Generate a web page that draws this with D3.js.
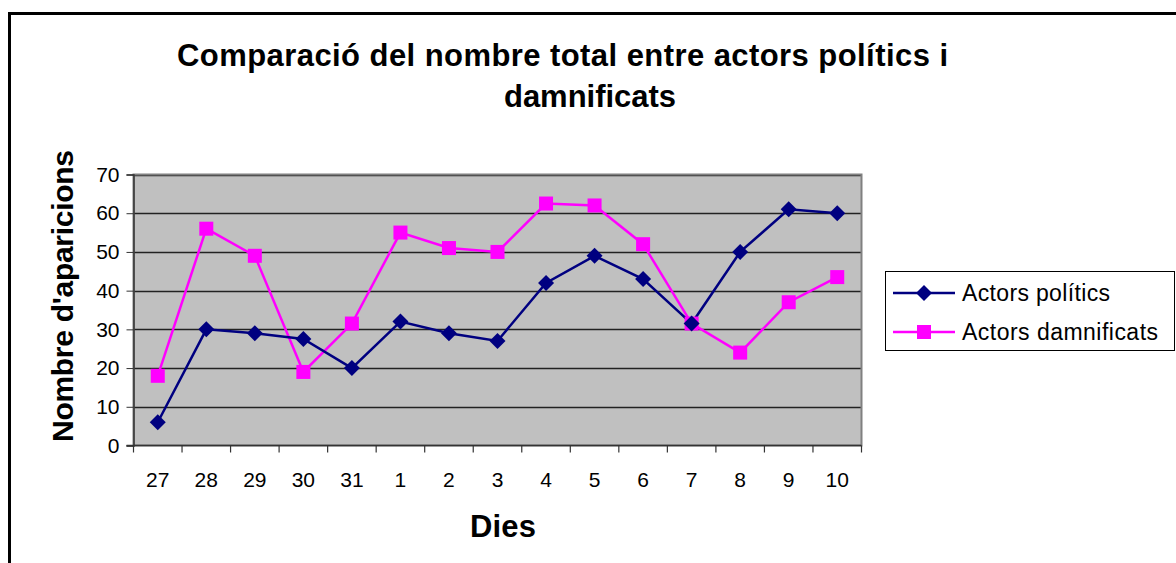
<!DOCTYPE html>
<html><head><meta charset="utf-8">
<script src="https://cdn.jsdelivr.net/npm/d3@7"></script>
<style>body{margin:0;background:#fff;} svg{display:block;} text{font-family:"Liberation Sans",Arial,sans-serif;}</style>
</head><body>
<svg id="c" width="1176" height="563"></svg>
<script>
const days = ["27","28","29","30","31","1","2","3","4","5","6","7","8","9","10"];
const politics = [6,30,29,27.5,20,32,29,27,42,49,43,31.5,50,61,60];
const victims = [18,56,49,19,31.5,55,51,50,62.5,62,52,31.5,24,37,43.5];
const yTicks = [0,10,20,30,40,50,60,70];
const seriesNames = ["Actors polítics","Actors damnificats"];
const titleLines = ["Comparació del nombre total entre actors polítics i","damnificats"];

const svg = d3.select("#c");
// outer frame
svg.append("rect").attr("x",9.5).attr("y",13.5).attr("width",1200).attr("height",600)
  .attr("fill","none").attr("stroke","#000").attr("stroke-width",3);

const L=133.5, R=861.5, T=174.5, B=445.5;
const x = d3.scaleBand().domain(days).range([L,R]).padding(0);
const y = d3.scaleLinear().domain([0,70]).range([B,T]);

svg.append("rect").attr("x",L).attr("y",T).attr("width",R-L).attr("height",B-T).attr("fill","#C0C0C0");
// gridlines
svg.append("g").selectAll("line").data(yTicks.filter(d=>d>0)).join("line")
  .attr("x1",L).attr("x2",R).attr("y1",d=>Math.round(y(d))+0.5).attr("y2",d=>Math.round(y(d))+0.5)
  .attr("stroke","#222").attr("stroke-width",1.3);
svg.append("rect").attr("x",L).attr("y",T).attr("width",R-L).attr("height",B-T)
  .attr("fill","none").attr("stroke","#808080").attr("stroke-width",2);

// y axis
const yAxis = d3.axisLeft(y).tickValues(yTicks).tickSize(7).tickPadding(7);
const gy = svg.append("g").attr("transform",`translate(${L},0)`).call(yAxis);
gy.select(".domain").attr("stroke","#333").attr("stroke-width",1.5);
gy.selectAll(".tick line").attr("stroke","#333");
gy.selectAll("text").attr("font-size",21).attr("fill","#000").style("font-family","Liberation Sans, Arial");

// x axis: ticks at boundaries
const gx = svg.append("g").attr("transform",`translate(0,${B})`);
gx.append("line").attr("x1",L-7).attr("x2",R).attr("y1",0).attr("y2",0).attr("stroke","#333").attr("stroke-width",1.5);
const bounds = days.map(d=>x(d)).concat([x(days[days.length-1])+x.bandwidth()]);
gx.selectAll("line.tk").data(bounds).join("line").attr("class","tk")
  .attr("x1",d=>d).attr("x2",d=>d).attr("y1",0).attr("y2",7).attr("stroke","#333").attr("stroke-width",1.2);
gx.selectAll("text").data(days).join("text")
  .attr("x",d=>x(d)+x.bandwidth()/2).attr("y",41).attr("text-anchor","middle")
  .attr("font-size",21).attr("fill","#000").text(d=>d);

const line = d3.line().x((d,i)=>x(days[i])+x.bandwidth()/2).y(d=>y(d));
svg.append("path").datum(victims).attr("d",line).attr("fill","none").attr("stroke","#FF00FF").attr("stroke-width",2.5);
svg.append("path").datum(politics).attr("d",line).attr("fill","none").attr("stroke","#000080").attr("stroke-width",2.5);

const sq = 14, dm = 8;
svg.append("g").selectAll("rect").data(victims).join("rect")
  .attr("x",(d,i)=>x(days[i])+x.bandwidth()/2-sq/2).attr("y",d=>y(d)-sq/2)
  .attr("width",sq).attr("height",sq).attr("fill","#FF00FF");
svg.append("g").selectAll("path").data(politics).join("path")
  .attr("transform",(d,i)=>`translate(${x(days[i])+x.bandwidth()/2},${y(d)})`)
  .attr("d",`M0,${-dm}L${dm},0L0,${dm}L${-dm},0Z`).attr("fill","#000080");

// titles
svg.append("text").attr("x",562.5).attr("y",66).attr("text-anchor","middle").attr("font-size",31).attr("font-weight","bold")
  .attr("textLength",771).attr("lengthAdjust","spacing").text(titleLines[0]);
svg.append("text").attr("x",590).attr("y",107).attr("text-anchor","middle").attr("font-size",31).attr("font-weight","bold")
  .attr("textLength",172).attr("lengthAdjust","spacing").text(titleLines[1]);
svg.append("text").attr("x",503).attr("y",537).attr("text-anchor","middle").attr("font-size",31).attr("font-weight","bold")
  .attr("textLength",66).attr("lengthAdjust","spacing").text("Dies");
svg.append("text").attr("transform","translate(73,296) rotate(-90)").attr("text-anchor","middle").attr("font-size",30).attr("font-weight","bold")
  .attr("textLength",292).attr("lengthAdjust","spacing").text("Nombre d'aparicions");

// legend
const lg = svg.append("g");
lg.append("rect").attr("x",885.5).attr("y",271.5).attr("width",289).attr("height",79).attr("fill","#fff").attr("stroke","#000").attr("stroke-width",1);
const ly = [293,332];
lg.append("line").attr("x1",893).attr("x2",955).attr("y1",ly[0]).attr("y2",ly[0]).attr("stroke","#000080").attr("stroke-width",2.5);
lg.append("path").attr("transform",`translate(924,${ly[0]})`).attr("d",`M0,${-dm}L${dm},0L0,${dm}L${-dm},0Z`).attr("fill","#000080");
lg.append("line").attr("x1",893).attr("x2",955).attr("y1",ly[1]).attr("y2",ly[1]).attr("stroke","#FF00FF").attr("stroke-width",2.5);
lg.append("rect").attr("x",924-sq/2).attr("y",ly[1]-sq/2).attr("width",sq).attr("height",sq).attr("fill","#FF00FF");
const legW = [148,196];
lg.selectAll("text.lt").data(seriesNames).join("text").attr("class","lt")
  .attr("x",962).attr("y",(d,i)=>ly[i]+8).attr("font-size",23).attr("fill","#000")
  .attr("textLength",(d,i)=>legW[i]).attr("lengthAdjust","spacing").text(d=>d);
</script>
</body></html>
